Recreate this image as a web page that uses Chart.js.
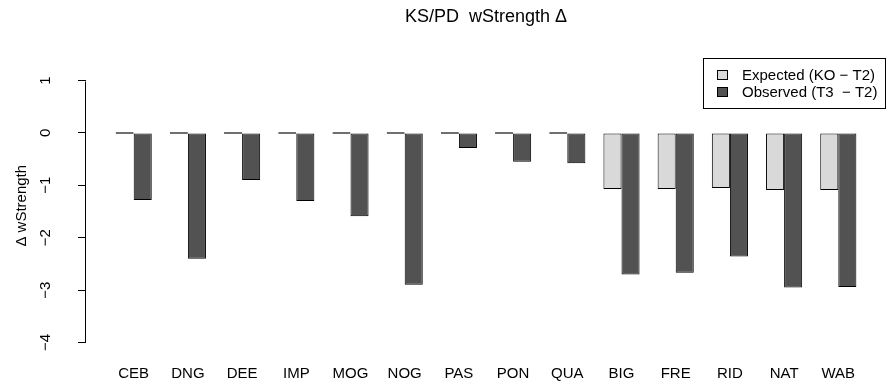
<!DOCTYPE html>
<html>
<head>
<meta charset="utf-8">
<script src="https://cdn.jsdelivr.net/npm/chart.js@4.4.1/dist/chart.umd.min.js"></script>
<style>
html, body { margin: 0; padding: 0; background: #fff; }
canvas { display: block; }
</style>
</head>
<body>
<canvas id="grafico" width="888" height="386"></canvas>
<script>
var sites = ['CEB', 'DNG', 'DEE', 'IMP', 'MOG', 'NOG', 'PAS', 'PON', 'QUA', 'BIG', 'FRE', 'RID', 'NAT', 'WAB'];
var expected = [0, 0, 0, 0, 0, 0, 0, 0, 0, -1.07, -1.07, -1.05, -1.09, -1.09];
var observed = [-1.28, -2.40, -0.90, -1.30, -1.59, -2.90, -0.29, -0.55, -0.58, -2.70, -2.67, -2.36, -2.95, -2.94];
var yTicks = [1, 0, -1, -2, -3, -4];

var fonte = '"Liberation Sans", Arial, Helvetica, sans-serif';
Chart.defaults.font.family = fonte;
Chart.defaults.font.size = 15;
Chart.defaults.color = '#000';

// one point per site, the site index is the x position
function pontos(valores) {
	return valores.map(function(v, i) { return {x: i, y: v}; });
}

function menos(v) {
	return String(v).replace('-', '\u2212');
}

// R style left axis: the line only runs between the first and last tick
var linhaEixo = {
	id: 'linhaEixo',
	afterDraw: function(chart) {
		var s = chart.scales.y;
		var ctx = chart.ctx;
		var x = Math.round(s.right) - 0.5;
		ctx.save();
		ctx.strokeStyle = '#000';
		ctx.lineWidth = 1;
		ctx.beginPath();
		ctx.moveTo(x, Math.round(s.getPixelForValue(yTicks[0])) + 0.5);
		ctx.lineTo(x, Math.round(s.getPixelForValue(yTicks[yTicks.length - 1])) + 0.5);
		ctx.stroke();
		ctx.restore();
	}
};

// boxed legend in the top right corner of the plot
var legenda = {
	id: 'legenda',
	afterDraw: function(chart) {
		var ctx = chart.ctx;
		var area = chart.chartArea;
		var w = 183, h = 51, linha = 17;
		var x0 = Math.round(area.right - w), y0 = Math.round(area.top);
		ctx.save();
		ctx.lineWidth = 1;
		ctx.strokeStyle = '#000';
		ctx.fillStyle = '#fff';
		ctx.fillRect(x0, y0, w, h);
		ctx.strokeRect(x0 + 0.5, y0 + 0.5, w - 1, h - 1);
		ctx.font = '15px ' + fonte;
		ctx.textBaseline = 'middle';
		chart.data.datasets.forEach(function(ds, i) {
			var cy = Math.round(y0 + linha * (i + 1));
			ctx.fillStyle = ds.backgroundColor;
			ctx.fillRect(x0 + 14, cy - 5, 11, 10);
			ctx.strokeRect(x0 + 14.5, cy - 4.5, 10, 9);
			ctx.fillStyle = '#000';
			ctx.fillText(ds.label, x0 + 39, cy + 1);
		});
		ctx.restore();
	}
};

new Chart(document.getElementById('grafico'), {
	type: 'bar',
	data: {
		datasets: [{
			label: 'Expected (KO \u2212 T2)',
			data: pontos(expected),
			backgroundColor: '#d9d9d9',
			borderColor: '#000',
			borderWidth: 1,
			borderSkipped: false,
			minBarLength: 1.5,
			categoryPercentage: 2 / 3,
			barPercentage: 1
		}, {
			label: 'Observed (T3  \u2212 T2)',
			data: pontos(observed),
			backgroundColor: '#525252',
			borderColor: '#000',
			borderWidth: 1,
			borderSkipped: false,
			minBarLength: 1.5,
			categoryPercentage: 2 / 3,
			barPercentage: 1
		}]
	},
	plugins: [linhaEixo, legenda],
	options: {
		responsive: false,
		animation: false,
		layout: { padding: { left: 0, right: 2, top: 0, bottom: 0 } },
		plugins: {
			legend: { display: false },
			tooltip: { enabled: false },
			title: {
				display: true,
				text: 'KS/PD  wStrength \u0394',
				fullSize: false,
				color: '#000',
				font: { size: 18, weight: 'normal' },
				padding: { top: 6, bottom: 30.4 }
			}
		},
		scales: {
			x: {
				type: 'linear',
				offset: false,
				min: -0.88,
				max: 13.88,
				afterBuildTicks: function(s) {
					s.ticks = sites.map(function(n, i) { return {value: i}; });
				},
				afterFit: function(s) {
					s.height = 32.5;
					s.paddingLeft = 0;
					s.paddingRight = 0;
				},
				grid: { display: false },
				border: { display: false },
				ticks: {
					autoSkip: false,
					maxRotation: 0,
					padding: 3,
					callback: function(v) { return sites[v]; }
				}
			},
			y: {
				min: -4.21,
				max: 1.43,
				afterBuildTicks: function(s) {
					s.ticks = yTicks.map(function(v) { return {value: v}; });
				},
				afterFit: function(s) {
					s.width = 86;
					s.paddingTop = 0;
					s.paddingBottom = 0;
				},
				grid: { drawOnChartArea: false, drawTicks: true, tickLength: 8, color: '#000' },
				border: { display: false },
				ticks: {
					autoSkip: false,
					minRotation: 90,
					maxRotation: 90,
					crossAlign: 'center',
					padding: 24,
					callback: function(v) { return menos(v); }
				},
				title: {
					display: true,
					text: '\u0394 wStrength',
					padding: { top: 13, bottom: 0 }
				}
			}
		}
	}
});
</script>
</body>
</html>
